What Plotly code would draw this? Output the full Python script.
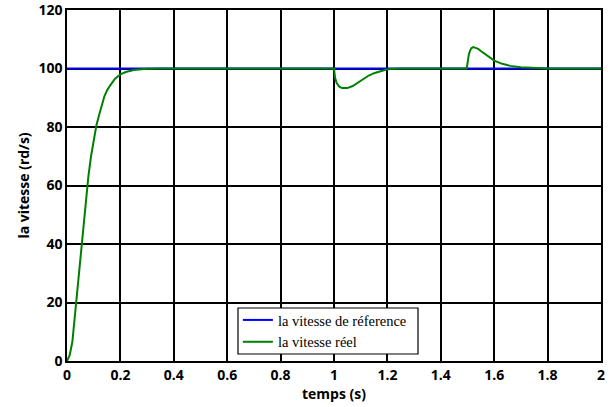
import plotly.graph_objects as go

# reference speed
t_ref = [0, 2]
v_ref = [100, 100]

# measured speed
t_real = [0, 0.01, 0.02, 0.03, 0.04, 0.05, 0.06, 0.07, 0.08, 0.09, 0.10, 0.11, 0.12,
          0.13, 0.14, 0.15, 0.16, 0.18, 0.20, 0.22, 0.25, 0.30, 0.35,
          1.0, 1.004, 1.01, 1.02, 1.03, 1.04, 1.05, 1.07, 1.09, 1.11, 1.13, 1.15,
          1.17, 1.19, 1.21, 1.25,
          1.497, 1.5, 1.505, 1.51, 1.515, 1.522, 1.53, 1.54, 1.55, 1.57, 1.6, 1.63,
          1.66, 1.7, 1.75, 1.8, 2.0]
v_real = [0, 2, 6.5, 16, 26, 36, 45.5, 54.5, 63, 70, 76, 80.5, 84,
          87.5, 90.5, 92.5, 94, 96.5, 98, 98.8, 99.5, 99.9, 100,
          100, 96.8, 95, 93.8, 93.3, 93.2, 93.3, 94, 95.2, 96.5, 97.6, 98.4,
          99, 99.5, 99.8, 100,
          100, 102, 104.8, 106.2, 107, 107.3, 107.1, 106.7, 106, 104.7, 102.7, 101.6,
          100.9, 100.4, 100.1, 100, 100]

x_ticks = [0, 0.2, 0.4, 0.6, 0.8, 1, 1.2, 1.4, 1.6, 1.8, 2]
x_labels = ["0", "0.2", "0.4", "0.6", "0.8", "1", "1.2", "1.4", "1.6", "1.8", "2"]
y_ticks = [0, 20, 40, 60, 80, 100, 120]

fig = go.Figure()
fig.add_trace(go.Scatter(x=t_ref, y=v_ref, mode="lines", name="la vitesse de réference",
                         line=dict(color="#0000ff", width=2)))
fig.add_trace(go.Scatter(x=t_real, y=v_real, mode="lines", name="la vitesse réel",
                         line=dict(color="#008000", width=2)))

# legend frame (white box with black border, drawn over the grid)
fig.add_shape(type="rect", xref="paper", yref="paper",
              x0=0.3202, x1=0.6573, y0=0.020, y1=0.151,
              fillcolor="white", line=dict(color="black", width=1.2), layer="above")

axis_font = dict(family="Open Sans", size=14, color="black")
fig.update_layout(
    width=614, height=407,
    margin=dict(l=67, r=13, t=10, b=46, autoexpand=False),
    paper_bgcolor="white", plot_bgcolor="white",
    showlegend=True,
    legend=dict(x=0.32, y=0.1624, xanchor="left", yanchor="top",
                bgcolor="rgba(0,0,0,0)", borderwidth=0,
                font=dict(family="Liberation Serif", size=14.5, color="black"),
                tracegroupgap=0),
    xaxis=dict(range=[0, 2], tickmode="array", tickvals=x_ticks, ticktext=x_labels,
               showgrid=True, gridcolor="black", gridwidth=1.5,
               showline=True, linecolor="black", linewidth=1.5, mirror=True,
               ticks="", zeroline=False, automargin=False, ticklabeloverflow="allow",
               tickfont=dict(family="Open Sans", size=14, color="black", weight="bold"),
               title=dict(text="<b>temps (s)</b>", font=axis_font, standoff=2)),
    yaxis=dict(range=[0, 120], tickmode="array", tickvals=y_ticks,
               showgrid=True, gridcolor="black", gridwidth=1.5,
               showline=True, linecolor="black", linewidth=1.5, mirror=True,
               ticks="", zeroline=False, automargin=False, ticklabeloverflow="allow",
               tickfont=dict(family="Open Sans", size=14, color="black", weight="bold"),
               title=dict(text="<b>la vitesse (rd/s)</b>", font=axis_font, standoff=6)),
)

fig.write_html("out.html", config={"displayModeBar": False})

# remove the default page margin so the figure sits at the window's top-left corner
with open("out.html", "r", encoding="utf-8") as f:
    html = f.read()
html = html.replace("<head>", "<head><style>html,body{margin:0;padding:0;overflow:hidden;}</style>", 1)
with open("out.html", "w", encoding="utf-8") as f:
    f.write(html)
